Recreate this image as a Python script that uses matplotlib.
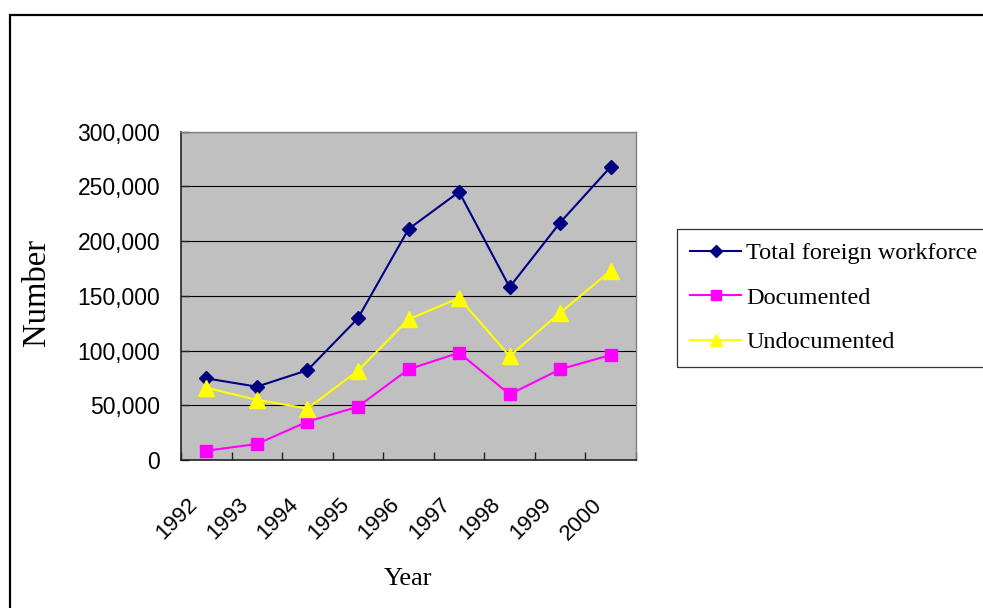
import matplotlib.pyplot as plt
from matplotlib.patches import Rectangle
from matplotlib.ticker import FuncFormatter, FixedLocator
from matplotlib.transforms import ScaledTranslation

years = ['1992', '1993', '1994', '1995', '1996', '1997', '1998', '1999', '2000']
total = [74600, 67000, 82000, 129500, 211000, 245000, 158000, 217000, 268000]
documented = [8500, 14600, 35000, 48700, 82900, 98000, 60000, 82900, 96000]
undocumented = [66000, 55000, 47000, 81600, 128500, 148000, 95000, 134600, 173000]

W, H = 983, 608
fig = plt.figure(figsize=(W / 100, H / 100), dpi=100)
fig.patch.set_facecolor('white')

# outer chart border (runs off the right and bottom edges)
fig.add_artist(Rectangle((10 / W, -0.2), 1.3, 1.2 - 15 / H, transform=fig.transFigure,
                         fill=False, edgecolor='black', linewidth=1.6))

ax = fig.add_axes([181 / W, 1 - 460 / H, (636 - 181) / W, (460 - 131.7) / H])
ax.set_facecolor('#C0C0C0')

x = list(range(len(years)))
ax.plot(x, total, color='#000080', lw=1.5, marker='D', ms=7.5, label='Total foreign workforce')
ax.plot(x, documented, color='#FF00FF', lw=1.5, marker='s', ms=8.5, label='Documented')
ax.plot(x, undocumented, color='#FFFF00', lw=1.5, marker='^', ms=11, label='Undocumented')

ax.set_xlim(-0.5, len(years) - 0.5)
ax.set_ylim(0, 300000)
ax.set_yticks(range(0, 300001, 50000))
ax.yaxis.set_major_formatter(FuncFormatter(lambda v, p: f'{int(v):,}'))
ax.grid(axis='y', color='black', lw=0.8)
ax.set_axisbelow(True)

ax.set_xticks(x)
ax.set_xticklabels(years, rotation=45, ha='right', va='center', rotation_mode='anchor')
ax.xaxis.set_minor_locator(FixedLocator([i - 0.5 for i in range(len(years) + 1)]))
ax.tick_params(axis='x', which='major', length=0, pad=30, labelsize=16)
ax.tick_params(axis='x', which='minor', direction='in', length=6, width=1, color='#222222')
ax.tick_params(axis='y', direction='in', length=5.5, width=1, pad=15, labelsize=16.5, color='#222222')
shift = ScaledTranslation(-12 / 100, 0, fig.dpi_scale_trans)
for lab in ax.get_xticklabels():
    lab.set_fontfamily('Liberation Sans')
    lab.set_transform(lab.get_transform() + shift)
for lab in ax.get_yticklabels():
    lab.set_fontfamily('Liberation Sans')

for side in ['left', 'bottom']:
    ax.spines[side].set_color('#222222')
    ax.spines[side].set_linewidth(1.2)
for side in ['top', 'right']:
    ax.spines[side].set_color('#808080')
    ax.spines[side].set_linewidth(1)

fig.text(37 / W, 1 - 293 / H, 'Number', rotation=90, ha='center', va='center',
         family='Liberation Serif', fontsize=23.5)
fig.text(408 / W, 1 - 579 / H, 'Year', ha='center', va='center',
         family='Liberation Serif', fontsize=19)

leg = fig.legend(loc='upper left', bbox_to_anchor=(677 / W, 1 - 229 / H),
                 bbox_transform=fig.transFigure, borderaxespad=0,
                 prop={'family': 'Liberation Serif', 'size': 17.5},
                 frameon=True, fancybox=False, edgecolor='black',
                 handlelength=2.1, handletextpad=0.2, labelspacing=0.92,
                 borderpad=0.55, markerscale=0.85)
leg.get_frame().set_linewidth(0.9)

plt.savefig('out.png', dpi=100)
